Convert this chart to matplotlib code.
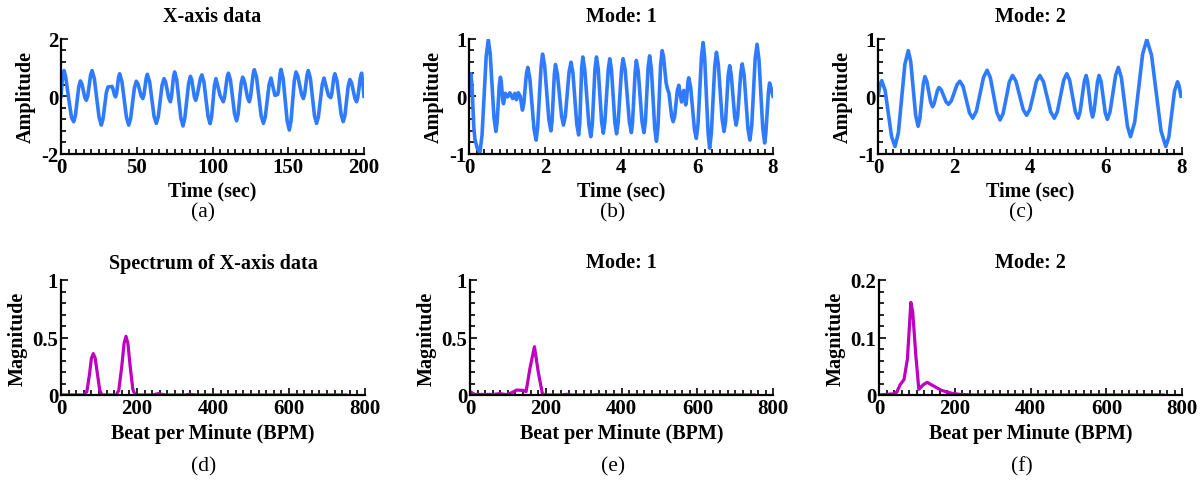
import matplotlib.pyplot as plt
from matplotlib.ticker import MultipleLocator, FormatStrFormatter

plt.rcParams['font.family'] = 'Liberation Serif'
plt.rcParams['font.weight'] = 'bold'
plt.rcParams['axes.unicode_minus'] = False

# --- signals ---
x_time = [0, 0.8, 2, 3.0, 5.7, 7.0, 8.4, 9.5, 11.7, 12.8, 13.8, 15.7, 16.7, 17.65, 19.55, 20.5,
          22.0, 25.1, 26.6, 27.7, 29.9, 31.0, 33.7, 34.3, 35.4, 36.0, 36.7, 38.0, 38.7, 40.2,
          43.2, 44.7, 45.95, 48.45, 49.7, 50.8, 52.9, 54.0, 54.75, 56.25, 57.0, 58.5, 61.4,
          62.9, 64.2, 66.7, 68.0, 69.05, 71.15, 72.2, 72.9, 74.3, 75.0, 76.4, 79.1, 80.5,
          81.7, 84.2, 85.4, 86.3, 88.0, 88.9, 89.9, 92.0, 93.0, 94.35, 97.05, 98.4, 99.4,
          101.3, 102.3, 105.0, 107.1, 107.95, 109.65, 110.5, 111.85, 114.55, 115.9, 116.9,
          118.9, 119.9, 121.0, 123.2, 124.3, 125.1, 126.8, 127.6, 129.1, 132.1, 133.6,
          134.85, 137.35, 138.6, 141.2, 143.0, 143.55, 144.65, 145.2, 146.6, 149.3, 150.7,
          151.8, 154.0, 155.1, 156.3, 158.8, 160.0, 160.8, 162.4, 163.2, 164.6, 167.3,
          168.7, 169.9, 172.4, 173.6, 176.5, 178.0, 178.7, 180.1, 180.8, 182.2, 184.9,
          186.3, 187.4, 189.6, 190.7, 191.8, 194.0, 195.1, 195.9, 197.6, 198.4, 199.2, 200]
x_amp = [0, 0.55, 0.89, 0.70, -0.31, -0.75, -0.88, -0.67, 0.32, 0.53, 0.43, -0.04, -0.14, 0.01,
         0.74, 0.89, 0.61, -0.72, -1.0, -0.80, 0.12, 0.32, 0.34, 0.25, 0.03, -0.02, 0.10, 0.66,
         0.78, 0.51, -0.73, -1.0, -0.77, 0.29, 0.52, 0.43, 0.01, -0.08, 0.05, 0.63, 0.76, 0.50,
         -0.69, -0.94, -0.71, 0.38, 0.61, 0.49, -0.07, -0.19, -0.03, 0.69, 0.84, 0.56, -0.75,
         -1.03, -0.77, 0.43, 0.69, 0.57, -0.02, -0.14, 0.04, 0.61, 0.74, 0.49, -0.70, -0.95,
         -0.71, 0.38, 0.61, 0.03, -0.19, -0.04, 0.65, 0.80, 0.56, -0.61, -0.85, -0.63, 0.44,
         0.66, 0.53, -0.06, -0.19, -0.02, 0.76, 0.92, 0.65, -0.67, -0.94, -0.71, 0.40, 0.63,
         0.03, 0.06, 0.19, 0.80, 0.93, 0.62, -0.86, -1.17, -0.87, 0.54, 0.84, 0.70, 0.06,
         -0.08, 0.07, 0.74, 0.89, 0.62, -0.67, -0.94, -0.71, 0.40, 0.63, 0.03, -0.05, 0.07,
         0.66, 0.78, 0.53, -0.63, -0.88, -0.66, 0.36, 0.58, 0.46, -0.07, -0.19, -0.04, 0.65,
         0.80, 0.45, 0.0]

m1_time = [0, 0.02, 0.04, 0.07, 0.12, 0.15, 0.21, 0.28, 0.335, 0.445, 0.5, 0.55, 0.65, 0.70,
           0.73, 0.79, 0.82, 0.84, 0.88, 0.90, 0.95, 1.01, 1.07, 1.14, 1.20, 1.24, 1.29, 1.34,
           1.40, 1.435, 1.505, 1.54, 1.595, 1.705, 1.76, 1.80, 1.89, 1.93, 1.985, 2.095, 2.15,
           2.18, 2.24, 2.27, 2.32, 2.43, 2.48, 2.53, 2.63, 2.68, 2.73, 2.83, 2.88, 2.91, 2.96,
           2.99, 3.04, 3.15, 3.20, 3.24, 3.31, 3.35, 3.395, 3.485, 3.53, 3.57, 3.66, 3.70,
           3.745, 3.835, 3.88, 3.92, 4.01, 4.05, 4.105, 4.215, 4.27, 4.30, 4.37, 4.40, 4.45,
           4.55, 4.60, 4.64, 4.71, 4.75, 4.795, 4.885, 4.93, 4.97, 5.04, 5.08, 5.115, 5.185,
           5.22, 5.26, 5.33, 5.37, 5.41, 5.48, 5.52, 5.59, 5.65, 5.70, 5.72, 5.76, 5.78, 5.83,
           5.93, 5.98, 6.025, 6.115, 6.16, 6.20, 6.29, 6.33, 6.375, 6.465, 6.51, 6.56, 6.66,
           6.71, 6.75, 6.82, 6.86, 6.90, 6.99, 7.03, 7.07, 7.15, 7.19, 7.24, 7.34, 7.39, 7.44,
           7.53, 7.58, 7.63, 7.73, 7.78, 7.81, 7.88, 7.91, 7.95, 8.0]
m1_amp = [0.05, 0.30, 0.39, 0.20, -0.55, -0.75, -0.90, -0.97, -0.68, 0.69, 0.98, 0.74, -0.37,
          -0.61, -0.47, 0.19, 0.33, 0.26, -0.06, -0.13, 0.05, -0.01, 0.06, -0.04, 0.05, -0.06,
          0.06, 0.0, -0.24, -0.13, 0.39, 0.50, 0.31, -0.57, -0.76, -0.54, 0.51, 0.73, 0.53,
          -0.40, -0.60, -0.43, 0.38, 0.55, 0.39, -0.34, -0.50, -0.34, 0.43, 0.59, 0.40, -0.48,
          -0.67, -0.47, 0.48, 0.68, 0.47, -0.49, -0.70, -0.49, 0.47, 0.68, 0.48, -0.44, -0.64,
          -0.45, 0.46, 0.65, 0.46, -0.46, -0.65, -0.46, 0.46, 0.65, 0.46, -0.44, -0.63, -0.45,
          0.43, 0.62, 0.43, -0.44, -0.63, -0.43, 0.50, 0.70, 0.48, -0.56, -0.78, -0.54, 0.55,
          0.79, 0.69, 0.23, 0.13, 0.05, -0.35, -0.44, -0.35, 0.10, 0.19, -0.10, 0.10, -0.15,
          -0.08, 0.25, 0.32, 0.16, -0.57, -0.73, -0.48, 0.68, 0.93, 0.66, -0.63, -0.90, -0.65,
          0.51, 0.76, 0.55, -0.40, -0.61, -0.44, 0.36, 0.53, 0.37, -0.35, -0.50, -0.34, 0.40,
          0.56, 0.36, -0.56, -0.76, -0.51, 0.65, 0.90, 0.64, -0.55, -0.81, -0.65, 0.07, 0.23,
          0.14, 0.0]

m2_time = [0, 0.045, 0.09, 0.18, 0.265, 0.35, 0.44, 0.53, 0.615, 0.70, 0.79, 0.855, 0.92, 0.985,
           1.05, 1.095, 1.14, 1.185, 1.23, 1.28, 1.33, 1.38, 1.43, 1.47, 1.515, 1.56, 1.60,
           1.66, 1.725, 1.79, 1.85, 1.925, 2.0, 2.075, 2.15, 2.235, 2.32, 2.405, 2.49, 2.585,
           2.68, 2.775, 2.87, 2.955, 3.04, 3.125, 3.21, 3.29, 3.375, 3.455, 3.54, 3.63, 3.725,
           3.82, 3.91, 3.995, 4.085, 4.17, 4.26, 4.355, 4.45, 4.545, 4.64, 4.72, 4.805, 4.89,
           4.97, 5.045, 5.12, 5.195, 5.27, 5.32, 5.375, 5.43, 5.48, 5.52, 5.565, 5.61, 5.65,
           5.69, 5.735, 5.78, 5.82, 5.875, 5.93, 5.985, 6.04, 6.11, 6.185, 6.26, 6.33, 6.41,
           6.49, 6.57, 6.65, 6.76, 6.865, 6.97, 7.08, 7.205, 7.33, 7.455, 7.58, 7.66, 7.735,
           7.81, 7.89, 7.935, 7.98]
m2_amp = [0.02, 0.20, 0.27, 0.10, -0.30, -0.70, -0.87, -0.63, -0.04, 0.55, 0.79, 0.60, 0.135,
          -0.33, -0.52, -0.39, -0.09, 0.21, 0.34, 0.26, 0.08, -0.10, -0.18, -0.13, -0.015, 0.10,
          0.15, 0.11, 0.005, -0.10, -0.14, -0.08, 0.06, 0.20, 0.26, 0.17, -0.06, -0.29, -0.38,
          -0.26, 0.035, 0.33, 0.45, 0.32, 0.02, -0.28, -0.41, -0.30, -0.025, 0.25, 0.36, 0.26,
          0.015, -0.23, -0.33, -0.23, 0.015, 0.26, 0.36, 0.25, -0.01, -0.27, -0.38, -0.27,
          0.005, 0.28, 0.39, 0.28, 0.005, -0.27, -0.38, -0.27, -0.01, 0.25, 0.36, 0.25, 0.0,
          -0.25, -0.36, -0.25, 0.0, 0.25, 0.36, 0.25, -0.02, -0.29, -0.40, -0.27, 0.05, 0.37,
          0.50, 0.32, -0.10, -0.52, -0.70, -0.45, 0.14, 0.73, 0.98, 0.71, 0.055, -0.60, -0.87,
          -0.71, -0.31, 0.09, 0.25, 0.17, 0.0]

# --- spectra ---
x_bpm = [0, 60, 68, 75, 80, 85, 90, 96, 102, 108, 145, 152, 160, 166, 171, 176, 182, 189,
         195, 240, 256, 275, 325, 340, 355, 750]
x_mag = [0, 0, 0.03, 0.18, 0.32, 0.36, 0.32, 0.18, 0.04, 0, 0, 0.04, 0.25, 0.45, 0.51, 0.45,
         0.25, 0.05, 0, 0, 0.012, 0, 0, 0.006, 0, 0]

m1_bpm = [0, 12, 60, 79, 96, 110, 123, 140, 148, 158, 170, 180, 191, 200, 240, 255, 270,
          325, 338, 350, 750]
m1_mag = [0.03, 0.005, 0.005, 0.012, 0.003, 0.02, 0.043, 0.04, 0.03, 0.23, 0.42, 0.2, 0.01,
          0, 0, 0.006, 0, 0, 0.004, 0, 0]

m2_bpm = [0, 38, 47, 55, 66, 75, 84, 89, 97, 105, 117, 127, 143, 165, 192, 214, 250, 750]
m2_mag = [0, 0.002, 0.005, 0.017, 0.027, 0.063, 0.161, 0.144, 0.07, 0.01, 0.018, 0.022,
          0.016, 0.008, 0.003, 0.001, 0, 0]

W, H = 1203, 485
fig = plt.figure(figsize=(W / 100, H / 100), dpi=100)

blue = '#2f7bff'
magenta = '#c000c0'
fs = 14.5


def make_axes(x0, x1, ytop, ybot):
    return fig.add_axes([x0 / W, 1 - ybot / H, (x1 - x0) / W, (ybot - ytop) / H])


def style(ax, xmaj, xmin, ymaj, ymin):
    for s in ['top', 'right']:
        ax.spines[s].set_visible(False)
    for s in ['left', 'bottom']:
        ax.spines[s].set_linewidth(1.6)
    ax.xaxis.set_major_locator(MultipleLocator(xmaj))
    ax.xaxis.set_minor_locator(MultipleLocator(xmin))
    ax.yaxis.set_major_locator(MultipleLocator(ymaj))
    ax.yaxis.set_minor_locator(MultipleLocator(ymin))
    ax.xaxis.set_major_formatter(FormatStrFormatter('%g'))
    ax.yaxis.set_major_formatter(FormatStrFormatter('%g'))
    ax.tick_params(which='both', direction='in', labelsize=15, pad=2, width=1.2)
    ax.tick_params(which='major', length=5)
    ax.tick_params(which='minor', length=3.5)


top = [(61, 364), (469.3, 773), (878.3, 1181.7)]
bot = [(61, 365), (470, 773.3), (879, 1182.3)]

# top row
top_data = [(x_time, x_amp, 'X-axis data', 200, 2), (m1_time, m1_amp, 'Mode: 1', 8, 1),
            (m2_time, m2_amp, 'Mode: 2', 8, 1)]
for (x0, x1), (t, a, title, xmax, ymax) in zip(top, top_data):
    ax = make_axes(x0, x1, 39.5, 155)
    ax.plot(t, a, color=blue, lw=2.6, solid_joinstyle='round')
    ax.set_xlim(0, xmax)
    ax.set_ylim(-ymax, ymax)
    if xmax == 200:
        style(ax, 50, 5, 2, 0.4)
    else:
        style(ax, 2, 0.2, 1, 0.2)
    ax.set_title(title, fontsize=fs, fontweight='bold', pad=12.5)
    ax.set_xlabel('Time (sec)', fontsize=fs, fontweight='bold', labelpad=2.5)
    ax.set_ylabel('Amplitude', fontsize=fs, fontweight='bold', labelpad=4)

# bottom row
bot_data = [(x_bpm, x_mag, 'Spectrum of X-axis data', 1), (m1_bpm, m1_mag, 'Mode: 1', 1),
            (m2_bpm, m2_mag, 'Mode: 2', 0.2)]
for (x0, x1), (b, m, title, ymax) in zip(bot, bot_data):
    ax = make_axes(x0, x1, 281, 396)
    ax.plot(b, m, color=magenta, lw=2.3, solid_joinstyle='round')
    ax.set_xlim(0, 800)
    ax.set_ylim(0, ymax)
    style(ax, 200, 20, ymax / 2, ymax / 10)
    ax.set_title(title, fontsize=fs, fontweight='bold', pad=9)
    ax.set_xlabel('Beat per Minute (BPM)', fontsize=fs, fontweight='bold', labelpad=4)
    ax.set_ylabel('Magnitude', fontsize=fs, fontweight='bold', labelpad=3)

# sub captions
caps = ['(a)', '(b)', '(c)', '(d)', '(e)', '(f)']
for i, (x0, x1) in enumerate(top):
    fig.text(((x0 + x1) / 2 - 9) / W, 1 - 213 / H, caps[i], ha='center', va='center',
             fontsize=15.5, fontweight='normal')
for i, (x0, x1) in enumerate(bot):
    fig.text(((x0 + x1) / 2 - 9) / W, 1 - 467 / H, caps[i + 3], ha='center', va='center',
             fontsize=15.5, fontweight='normal')

fig.savefig('out.png', dpi=100)
